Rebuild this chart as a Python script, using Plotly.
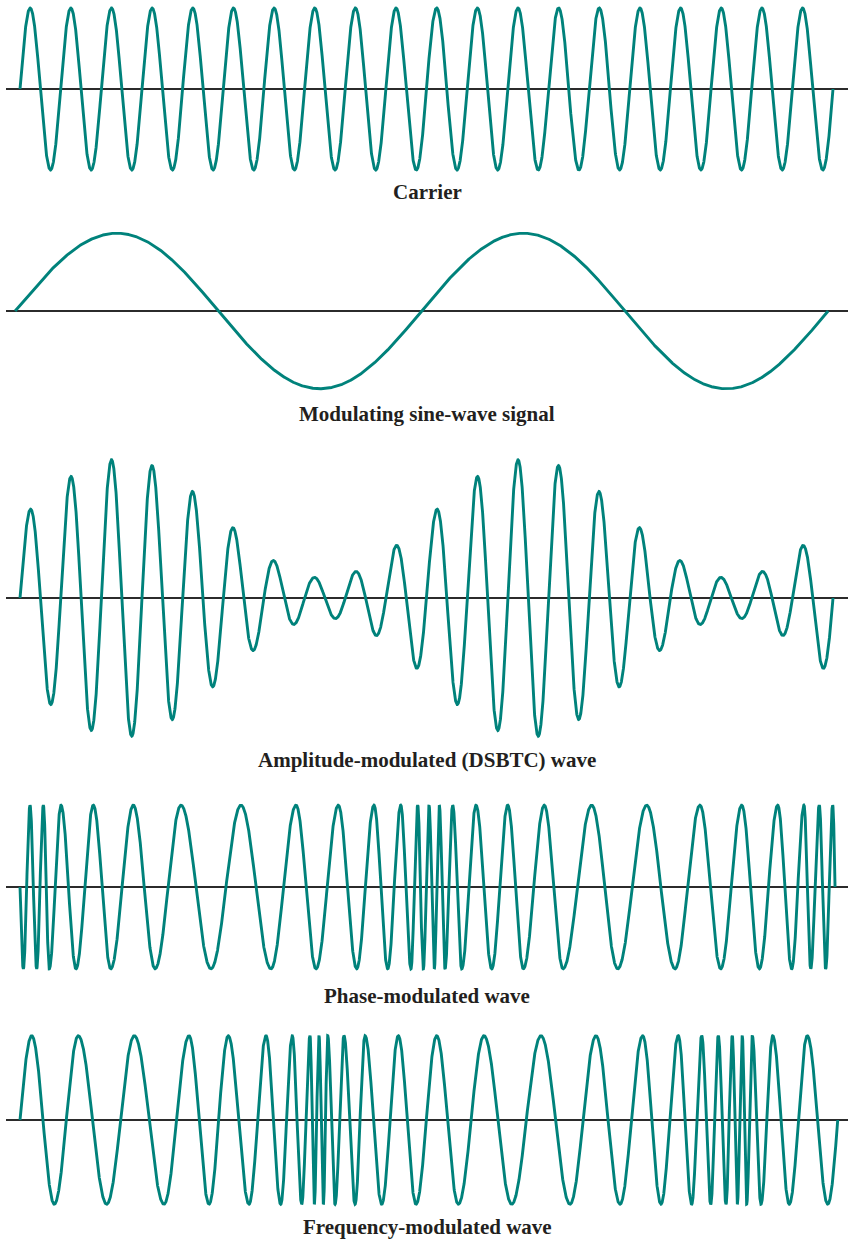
import numpy as np
import plotly.graph_objects as go
from plotly.subplots import make_subplots

# time axis: 0..100 spans the 20 carrier cycles
CARRIER_CYCLES = 20
MOD_CYCLES = 2
MOD_START = -0.6
AM_DEPTH = 0.75

AMPLITUDE = {"carrier": 1.0, "mod": 0.96, "am": 0.98, "pm": 1.01, "fm": 1.04}

# extrema positions (start crossing, peaks/troughs, end crossing)
PM_RISING = False
PM_NODES = [0, 0.41, 1.23, 2.05, 2.87, 3.60, 5.04, 6.89, 9.02, 11.16, 13.94, 16.61,
            19.80, 23.49, 27.18, 30.87, 33.95, 36.41, 39.15, 41.41, 43.54, 45.23,
            46.83, 48.09, 48.92, 49.61, 50.31, 50.96, 51.57, 52.28, 53.22, 54.33,
            56.09, 58.02, 59.99, 61.91, 64.49, 66.79, 70.32, 73.52, 77.08, 80.57,
            83.64, 86.19, 88.77, 90.94, 93.20, 94.92, 96.43, 97.26, 98.31, 99.10,
            99.96, 100.25]

FM_RISING = True
FM_NODES = [0, 1.44, 4.22, 7.17, 10.66, 14.06, 17.71, 20.79, 23.25, 25.62, 28.17,
            30.26, 32.07, 33.49, 34.65, 35.67, 36.20, 36.78, 37.31, 37.85, 38.75,
            39.85, 41.21, 42.44, 44.49, 46.53, 48.71, 51.25, 53.91, 57.07, 60.48,
            64.08, 67.65, 70.85, 73.80, 76.59, 78.84, 80.97, 82.62, 83.85, 84.96,
            85.89, 86.84, 87.61, 88.23, 88.84, 89.38, 90.07, 91.14, 92.58, 94.62,
            96.84, 99.35, 100.58]

LABELS = ["Carrier", "Modulating sine-wave signal", "Amplitude-modulated (DSBTC) wave",
          "Phase-modulated wave", "Frequency-modulated wave"]

TEAL = "#00827b"
W, H = 848, 1240
PX_PER_UNIT = 81.0   # vertical pixels per unit amplitude
PX_PER_T = 8.13      # horizontal pixels per time unit
T0_PX = 20           # where t=0 sits
AXIS_LEFT_PX = 6

# (axis centre px, half height px, label centre px)
PANELS = [(89, 85, 192), (311, 95, 414), (598, 150, 760), (887, 95, 996), (1120, 95, 1227)]


def wave_from_nodes(nodes, rising, amp, n=8000):
    nodes = np.asarray(nodes, dtype=float)
    p0 = 0.0 if rising else np.pi
    phases = [p0] + [p0 + np.pi / 2 + k * np.pi for k in range(len(nodes) - 2)]
    phases.append(phases[-1] + np.pi / 2)
    t = np.linspace(nodes[0], nodes[-1], n)
    return t, amp * np.sin(np.interp(t, nodes, phases))


t = np.linspace(0, 100, 8000)
carrier = AMPLITUDE["carrier"] * np.sin(2 * np.pi * CARRIER_CYCLES * t / 100)

t_mod = np.linspace(MOD_START, MOD_START + 100, 4000)
modulating = AMPLITUDE["mod"] * np.sin(2 * np.pi * MOD_CYCLES * (t_mod - MOD_START) / 100)

am = AMPLITUDE["am"] * (1 + AM_DEPTH * np.sin(2 * np.pi * MOD_CYCLES * t / 100)) \
    * np.sin(2 * np.pi * CARRIER_CYCLES * t / 100)

t_pm, pm = wave_from_nodes(PM_NODES, PM_RISING, AMPLITUDE["pm"])
t_fm, fm = wave_from_nodes(FM_NODES, FM_RISING, AMPLITUDE["fm"])

series = [(t, carrier), (t_mod, modulating), (t, am), (t_pm, pm), (t_fm, fm)]

fig = make_subplots(rows=5, cols=1, shared_xaxes=True)

for i, (x, y) in enumerate(series):
    fig.add_trace(go.Scatter(x=x, y=y, mode="lines",
                             line=dict(color=TEAL, width=2.9),
                             hoverinfo="skip", showlegend=False), row=i + 1, col=1)

x_lo = (AXIS_LEFT_PX - T0_PX) / PX_PER_T
x_hi = (W - T0_PX) / PX_PER_T
fig.update_xaxes(range=[x_lo, x_hi], domain=[AXIS_LEFT_PX / W, 1],
                 visible=False, showgrid=False, zeroline=False)

for i, (c, h, lab) in enumerate(PANELS):
    r = h / PX_PER_UNIT
    fig.update_yaxes(domain=[1 - (c + h) / H, 1 - (c - h) / H], range=[-r, r],
                     showgrid=False, showticklabels=False, ticks="",
                     zeroline=True, zerolinecolor="#2b2b2b", zerolinewidth=1.2,
                     showline=False, row=i + 1, col=1)
    fig.add_annotation(text="<b>" + LABELS[i] + "</b>", x=427 / W, y=1 - lab / H,
                       xref="paper", yref="paper", xanchor="center", yanchor="middle",
                       showarrow=False,
                       font=dict(family="Liberation Serif", size=21, color="#231f20"))

fig.update_layout(width=W, height=H, margin=dict(l=0, r=0, t=0, b=0),
                  plot_bgcolor="white", paper_bgcolor="white", hovermode=False)

fig.write_html("out.html", config={"displayModeBar": False, "staticPlot": True})

# drop the browser's default page margin so the figure sits at the top-left corner
with open("out.html", encoding="utf-8") as f:
    page = f.read()
page = page.replace("<body>", '<body style="margin:0;overflow:hidden">', 1)
with open("out.html", "w", encoding="utf-8") as f:
    f.write(page)
